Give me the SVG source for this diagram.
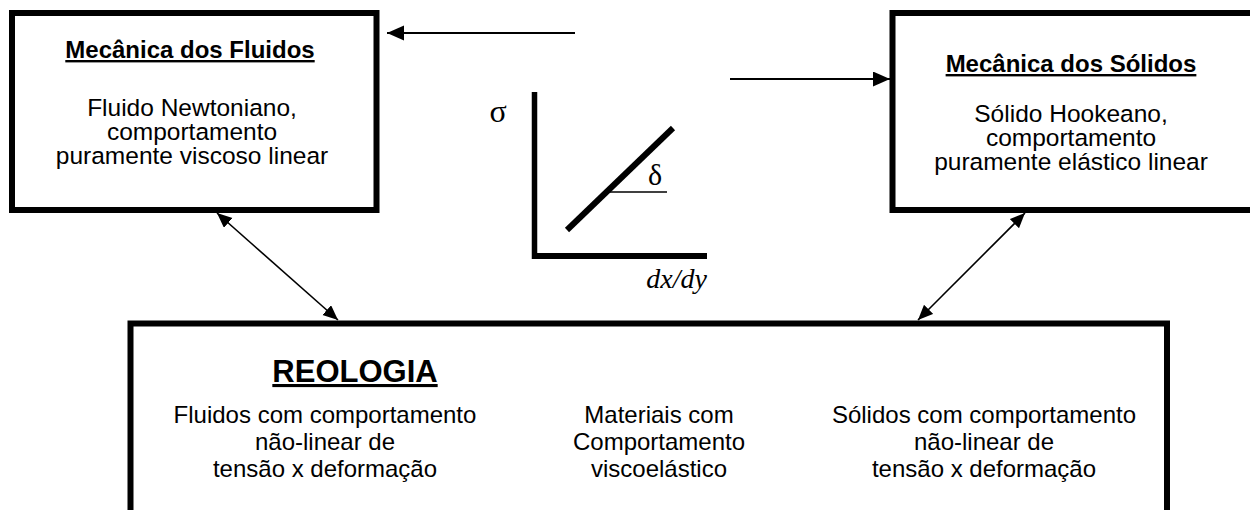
<svg xmlns="http://www.w3.org/2000/svg" width="1250" height="510" viewBox="0 0 1250 510">
<defs>
<style>
.box{fill:#fff;stroke:#000;stroke-width:6}
.t{font-family:"Liberation Sans",Arial,sans-serif;font-size:24px;fill:#000;text-anchor:middle}
.tb{font-size:24.5px}
.h{font-family:"Liberation Sans",Arial,sans-serif;font-size:24px;font-weight:bold;fill:#000;text-anchor:middle;text-decoration:underline}
.g{font-family:"Liberation Serif","Times New Roman",serif;fill:#000}
.c{fill:none;stroke:#000}
</style>
<marker id="ah" markerUnits="userSpaceOnUse" markerWidth="18" markerHeight="16" refX="17" refY="7.5" orient="auto-start-reverse">
<path d="M0,0 L17,7.5 L0,15 z" fill="#000"/>
</marker>
<marker id="as" markerUnits="userSpaceOnUse" markerWidth="16" markerHeight="14" refX="15" refY="6.5" orient="auto-start-reverse">
<path d="M0,0 L15,6.5 L0,13 z" fill="#000"/>
</marker>
</defs>
<rect width="1250" height="510" fill="#fff"/>

<g id="fluidos">
<rect class="box" x="12" y="13" width="364.5" height="197"/>
<text class="h" x="190" y="58">Mecânica dos Fluidos</text>
<text class="t tb" x="192" y="116">Fluido Newtoniano,</text>
<text class="t tb" x="192" y="140">comportamento</text>
<text class="t tb" x="192" y="164">puramente viscoso linear</text>
</g>

<g id="solidos">
<rect class="box" x="892.5" y="13" width="380" height="197"/>
<text class="h" x="1071" y="72">Mecânica dos Sólidos</text>
<text class="t tb" x="1071" y="122">Sólido Hookeano,</text>
<text class="t tb" x="1071" y="146">comportamento</text>
<text class="t tb" x="1071" y="170">puramente elástico linear</text>
</g>

<g id="grafico">
<line class="c" x1="534.5" y1="92" x2="534.5" y2="259" stroke-width="5.5"/>
<line class="c" x1="532" y1="256" x2="707" y2="256" stroke-width="6"/>
<line class="c" x1="567" y1="230" x2="673" y2="128" stroke-width="6"/>
<line class="c" x1="610" y1="192" x2="667" y2="192" stroke-width="1.5"/>
<text class="g" x="498" y="122" font-size="32" text-anchor="middle">σ</text>
<text class="g" x="655" y="185" font-size="30" text-anchor="middle">δ</text>
<text class="g" x="707" y="288" font-size="28" font-style="italic" text-anchor="end">dx/dy</text>
</g>

<g id="reologia">
<rect class="box" x="130.5" y="323.5" width="1036.5" height="220"/>
<text x="355" y="382" font-family="'Liberation Sans',Arial,sans-serif" font-size="31" font-weight="bold" text-anchor="middle" text-decoration="underline">REOLOGIA</text>
<text class="t" x="325" y="423">Fluidos com comportamento</text>
<text class="t" x="325" y="450">não-linear de</text>
<text class="t" x="325" y="477">tensão x deformação</text>
<text class="t" x="659" y="423">Materiais com</text>
<text class="t" x="659" y="450">Comportamento</text>
<text class="t" x="659" y="477">viscoelástico</text>
<text class="t" x="984" y="423">Sólidos com comportamento</text>
<text class="t" x="984" y="450">não-linear de</text>
<text class="t" x="984" y="477">tensão x deformação</text>
</g>

<g id="conectores">
<line class="c" x1="575" y1="33" x2="387" y2="33" stroke-width="2" marker-end="url(#ah)"/>
<line class="c" x1="730" y1="79" x2="890" y2="79" stroke-width="2" marker-end="url(#ah)"/>
<line class="c" x1="217" y1="213" x2="338" y2="320" stroke-width="1.6" marker-start="url(#as)" marker-end="url(#as)"/>
<line class="c" x1="1025" y1="213" x2="918" y2="320" stroke-width="1.6" marker-start="url(#as)" marker-end="url(#as)"/>
</g>
</svg>
